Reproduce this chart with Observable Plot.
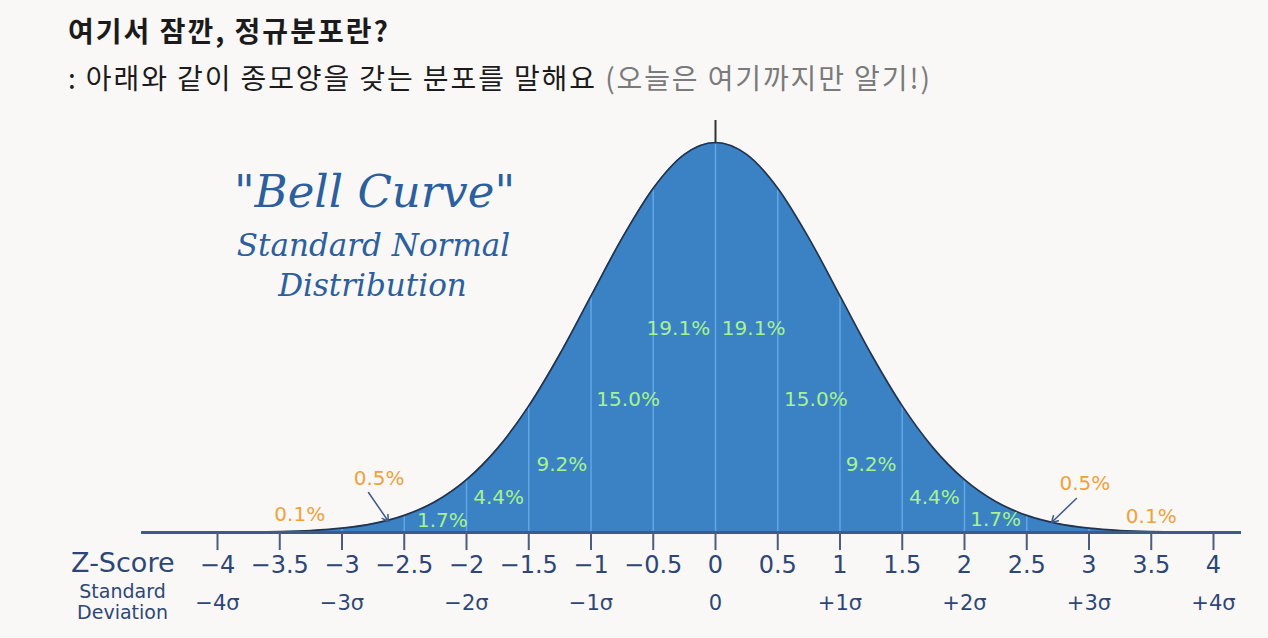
<!DOCTYPE html>
<html><head><meta charset="utf-8">
<script src="https://cdn.jsdelivr.net/npm/d3@7"></script>
<script src="https://cdn.jsdelivr.net/npm/@observablehq/plot@0.6"></script>
<style>
html,body{margin:0;padding:0;background:#f9f8f7;width:1268px;height:638px;overflow:hidden;}
#head{position:relative;height:100px;}
#t{position:absolute;left:68px;top:10px;font-weight:700;font-size:28px;font-family:"Noto Sans CJK KR",sans-serif;color:#1b1b1b;white-space:nowrap;letter-spacing:2px;}
#s{position:absolute;left:68px;top:57px;font-size:28px;font-family:"Noto Sans CJK KR",sans-serif;color:#1b1b1b;white-space:nowrap;letter-spacing:1.9px;}
#s span{color:#7a7a7a;}
#chart svg{display:block;}
</style></head><body>
<div id="head"><div id="t"></div><div id="s"></div></div>
<div id="chart"></div>
<script>
// ---- text ----
const titleText = "여기서 잠깐, 정규분포란?";
const subtitleText = ": 아래와 같이 종모양을 갖는 분포를 말해요 ";
const subtitleNote = "(오늘은 여기까지만 알기!)";
const bellTitle = "\"Bell Curve\"";
const bellSub1 = "Standard Normal";
const bellSub2 = "Distribution";

// ---- curve (density, 0.25 steps) ----
const curveZ = [-4,-3.75,-3.5,-3.25,-3,-2.75,-2.5,-2.25,-2,-1.75,-1.5,-1.25,-1,-0.75,-0.5,-0.25,0,
  0.25,0.5,0.75,1,1.25,1.5,1.75,2,2.25,2.5,2.75,3,3.25,3.5,3.75,4];
const curveDensity = [0.0001,0.0004,0.0009,0.002,0.0044,0.0091,0.0175,0.0317,0.054,0.0863,0.1295,0.1826,0.242,0.3011,0.3521,0.3867,0.3989,
  0.3867,0.3521,0.3011,0.242,0.1826,0.1295,0.0863,0.054,0.0317,0.0175,0.0091,0.0044,0.002,0.0009,0.0004,0.0001];

// ---- axis ----
const zTicks = [-4,-3.5,-3,-2.5,-2,-1.5,-1,-0.5,0,0.5,1,1.5,2,2.5,3,3.5,4];
const zTickLabels = ["−4","−3.5","−3","−2.5","−2","−1.5","−1","−0.5","0","0.5","1","1.5","2","2.5","3","3.5","4"];
const sigmaTicks = [-4,-3,-2,-1,0,1,2,3,4];
const sigmaLabels = ["−4σ","−3σ","−2σ","−1σ","0","+1σ","+2σ","+3σ","+4σ"];

// ---- segment percentages ----
const segStart = [0,0.5,1,1.5,2,2.5,3];
const segEnd   = [0.5,1,1.5,2,2.5,3,4];
const segPct   = ["19.1%","15.0%","9.2%","4.4%","1.7%","0.5%","0.1%"];
const segTail  = [false,false,false,false,false,true,true];

// ---- layout (pixel offsets of labels from segment centre on the baseline) ----
const labelDYr = [-204,-133,-68,-35,-13,-49,-16];
const labelDYl = [-204,-133,-68,-35,-12,-54,-18];
const labelDXr = [7,7,0,1,0,27,0];
const labelDXl = [-6,6,2,1,7,6,20];
const arrowsL = [
  {x1:-2.787,y1:0.0409,x2:-2.627,y2:0.0113},
  {x1:2.899,y1:0.0348,x2:2.699,y2:0.0102}
];

document.getElementById("t").textContent = titleText;
const s = document.getElementById("s");
s.textContent = subtitleText;
const sp = document.createElement("span"); sp.textContent = subtitleNote; s.appendChild(sp);

const curve = curveZ.map((z,i)=>({z, d:curveDensity[i]}));
const dAt = z => curveDensity[curveZ.indexOf(z)];
const innerLines = zTicks.filter(z=>Math.abs(z)<4);

const labelMarks = [];
segPct.forEach((p,i)=>{
  const mid = (segStart[i]+segEnd[i])/2;
  const fill = segTail[i] ? "#f0a13c" : "#a6f38f";
  const common = {y: 0, text: d=>d, fill, fontSize: 20, fontFamily: "DejaVu Sans", letterSpacing: 1.4};
  labelMarks.push(Plot.text([p], {...common, x: ()=>mid, dx: labelDXr[i], dy: labelDYr[i]}));
  labelMarks.push(Plot.text([p], {...common, x: ()=>-mid, dx: labelDXl[i], dy: labelDYl[i]}));
});

const navy = "#2e4676";
const blueText = "#2b5f9e";
const chart = Plot.plot({
  width: 1268, height: 538,
  marginLeft: 217, marginRight: 55, marginTop: 42, marginBottom: 106,
  x: {domain: [-4, 4], axis: null},
  y: {domain: [0, 0.3989], axis: null},
  style: {background: "transparent", overflow: "visible"},
  marks: [
    Plot.areaY(curve, {x: "z", y: "d", fill: "#3b82c4", curve: "monotone-x"}),
    Plot.ruleX(innerLines, {x: d=>d, y1: 0, y2: d=>dAt(d)*0.995, stroke: "#6bb0ef", strokeWidth: 1.5, strokeOpacity: 0.8}),
    Plot.lineY(curve, {x: "z", y: "d", stroke: "#23334d", strokeWidth: 1.7, curve: "monotone-x"}),
    Plot.ruleY([0], {x1: -4.61, x2: 4.225, stroke: "#3d5a8a", strokeWidth: 3}),
    Plot.ruleX(zTicks, {x: d=>d, y1: 0, y2: -0.0185, stroke: "#4b5d7e", strokeWidth: 2}),
    Plot.ruleX([0], {x: d=>d, y1: 0.3989, y2: 0.3989+0.0225, stroke: "#333", strokeWidth: 2}),
    ...labelMarks,
    Plot.arrow(arrowsL, {x1: "x1", y1: "y1", x2: "x2", y2: "y2", stroke: "#3d5a8a", strokeWidth: 1.5, headLength: 7}),
    Plot.text(zTicks, {x: d=>d, y: 0, dy: 33, text: (d,i)=>zTickLabels[i], fill: navy, fontSize: 24, fontFamily: "DejaVu Sans"}),
    Plot.text(sigmaTicks, {x: d=>d, y: 0, dy: 71, text: (d,i)=>sigmaLabels[i], fill: navy, fontSize: 21, fontFamily: "DejaVu Sans"}),
    Plot.text(["Z-Score"], {x: -4, y: 0, dx: -43, dy: 31, textAnchor: "end", fill: navy, fontSize: 27, fontFamily: "DejaVu Sans"}),
    Plot.text(["Standard"], {x: -4, y: 0, dx: -95, dy: 59, fill: navy, fontSize: 19, letterSpacing: 0.8, fontFamily: "DejaVu Sans"}),
    Plot.text(["Deviation"], {x: -4, y: 0, dx: -95, dy: 80, fill: navy, fontSize: 19, letterSpacing: 0.8, fontFamily: "DejaVu Sans"}),
    Plot.text([bellTitle], {frameAnchor: "top-left", textAnchor: "middle", dx: 157, dy: 33, fill: blueText, fontSize: 45, fontStyle: "italic", fontFamily: "DejaVu Serif"}),
    Plot.text([bellSub1], {frameAnchor: "top-left", textAnchor: "middle", dx: 156, dy: 91, fill: blueText, fontSize: 31, fontStyle: "italic", fontFamily: "DejaVu Serif"}),
    Plot.text([bellSub2], {frameAnchor: "top-left", textAnchor: "middle", dx: 155, dy: 131, fill: blueText, fontSize: 31, fontStyle: "italic", fontFamily: "DejaVu Serif"})
  ]
});
document.getElementById("chart").appendChild(chart);
</script>
</body></html>
